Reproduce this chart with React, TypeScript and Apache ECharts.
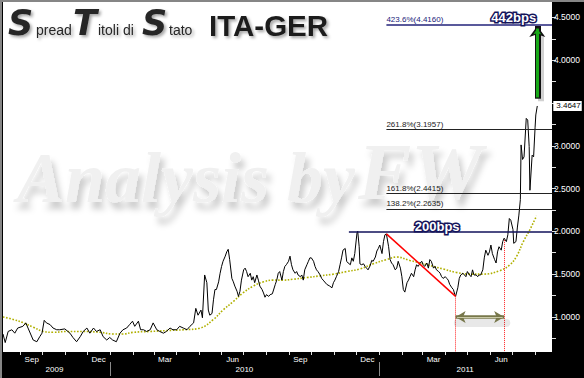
import React, { useEffect, useRef } from 'react';
import * as echarts from 'echarts';

const BASE = Date.UTC(2009, 8, 1);
const DAY = 86400000;
const t = (d: number) => BASE + d * DAY;

const X_MIN_DAY = -24;
const X_MAX_DAY = 722;
const Y_MIN = 0.59;
const Y_MAX = 4.68;

const spreadDays = [
  -24, -21, -17, -12, -8, -4, 3, 7, 10, 17, 22, 26, 29, 32, 35, 40, 44, 49, 53, 60,
  67, 71, 76, 81, 85, 90, 94, 99, 103, 108, 112, 117, 121, 125, 130, 135, 139, 144, 148, 152,
  155, 160, 163, 167, 171, 176, 180, 185, 189, 194, 198, 203, 207, 212, 216, 221, 226, 230, 235, 238,
  241, 245, 247, 250, 253, 255, 257, 260, 262, 264, 266, 269, 271, 273, 275, 278, 280, 282, 284, 287,
  289, 291, 294, 296, 298, 300, 303, 305, 307, 309, 312, 314, 316, 318, 321, 323, 325, 328, 330, 332,
  334, 337, 339, 342, 346, 348, 350, 352, 355, 357, 359, 361, 364, 366, 368, 370, 373, 375, 377, 380,
  382, 384, 386, 389, 391, 393, 395, 398, 400, 402, 404, 407, 409, 411, 416, 420, 423, 425, 427, 429,
  432, 434, 436, 438, 441, 443, 445, 448, 450, 452, 454, 457, 458, 460, 461, 463, 466, 468, 470, 472,
  475, 477, 479, 482, 484, 486, 488, 491, 493, 495, 497, 500, 502, 504, 506, 509, 511, 513, 516, 518,
  520, 522, 525, 527, 529, 531, 534, 536, 538, 540, 543, 545, 547, 549, 552, 554, 556, 558, 561, 563,
  565, 568, 570, 572, 574, 577, 579, 581, 583, 586, 588, 590, 591, 594, 596, 598, 601, 603, 605, 607,
  610, 612, 614, 616, 619, 621, 623, 625, 628, 630, 632, 635, 637, 639, 641, 644, 646, 648, 650, 653,
  655, 657, 660, 662, 664, 666, 669, 670, 673, 675, 677, 679, 680, 682, 684, 687, 689, 691, 692, 695,
  697, 699, 700, 702,
];
const spreadValues = [
  0.80, 0.70, 0.83, 0.85, 0.81, 0.87, 0.89, 0.93, 0.87, 0.73, 0.71, 0.77, 0.81, 0.96, 0.93, 0.91, 0.87, 0.85, 0.85, 0.86,
  0.81, 0.76, 0.71, 0.77, 0.83, 0.87, 0.81, 0.87, 0.83, 0.85, 0.77, 0.73, 0.76, 0.73, 0.71, 0.81, 0.85, 0.87, 0.91, 0.95,
  0.89, 0.95, 0.85, 0.85, 0.83, 0.85, 0.93, 0.85, 0.83, 0.81, 0.83, 0.87, 0.85, 0.85, 0.89, 0.87, 0.85, 0.89, 0.93, 1.10,
  1.02, 1.08, 0.99, 1.49, 1.40, 1.08, 1.02, 1.04, 1.20, 1.32, 1.32, 1.41, 1.51, 1.59, 1.65, 1.71, 1.76, 1.79, 1.67, 1.45,
  1.41, 1.36, 1.30, 1.24, 1.30, 1.43, 1.55, 1.57, 1.53, 1.47, 1.51, 1.43, 1.47, 1.40, 1.49, 1.43, 1.36, 1.32, 1.28, 1.23,
  1.26, 1.24, 1.26, 1.27, 1.38, 1.43, 1.51, 1.53, 1.43, 1.53, 1.59, 1.61, 1.65, 1.71, 1.61, 1.55, 1.51, 1.53, 1.49, 1.47,
  1.49, 1.43, 1.55, 1.61, 1.65, 1.69, 1.69, 1.65, 1.59, 1.55, 1.53, 1.49, 1.45, 1.43, 1.38, 1.36, 1.34, 1.40, 1.43, 1.47,
  1.53, 1.61, 1.69, 1.78, 1.80, 1.65, 1.63, 1.61, 1.69, 1.65, 1.74, 1.98, 2.00, 1.82, 1.62, 1.61, 1.62, 1.59, 1.57, 1.55,
  1.60, 1.66, 1.65, 1.70, 1.77, 1.80, 1.84, 1.74, 1.88, 1.96, 1.97, 1.82, 1.67, 1.63, 1.61, 1.55, 1.57, 1.65, 1.57, 1.47,
  1.32, 1.29, 1.40, 1.43, 1.47, 1.51, 1.47, 1.55, 1.61, 1.59, 1.63, 1.65, 1.61, 1.59, 1.63, 1.57, 1.67, 1.65, 1.57, 1.59,
  1.55, 1.53, 1.51, 1.47, 1.45, 1.47, 1.45, 1.43, 1.38, 1.34, 1.32, 1.26, 1.24, 1.34, 1.45, 1.49, 1.51, 1.49, 1.47, 1.53,
  1.49, 1.47, 1.55, 1.49, 1.49, 1.47, 1.49, 1.49, 1.55, 1.69, 1.78, 1.72, 1.76, 1.84, 1.74, 1.67, 1.63, 1.76, 1.82, 1.78,
  1.88, 1.92, 1.88, 1.96, 2.15, 2.13, 2.02, 1.86, 1.88, 2.05, 2.19, 2.37, 3.01, 2.84, 2.87, 3.32, 3.30, 2.99, 2.48, 2.89,
  2.87, 3.21, 3.36, 3.4647,
];

const maDays = [
  -24, -10, 4, 17, 31, 44, 63, 85, 108, 126, 139, 153, 176, 198, 221, 244, 262, 275, 289, 302,
  316, 330, 343, 357, 370, 389, 407, 425, 443, 461, 479, 497, 511, 529, 552, 574, 592, 610, 629, 651,
  665, 674, 683, 692, 701,
];
const maValues = [
  1.00, 0.97, 0.93, 0.88, 0.83, 0.82, 0.83, 0.83, 0.82, 0.80, 0.80, 0.82, 0.83, 0.84, 0.85, 0.87, 0.97, 1.08, 1.18, 1.28,
  1.36, 1.41, 1.43, 1.43, 1.44, 1.46, 1.48, 1.50, 1.53, 1.56, 1.62, 1.67, 1.70, 1.66, 1.61, 1.56, 1.52, 1.50, 1.50, 1.54,
  1.61, 1.71, 1.88, 2.02, 2.18,
];

const yTickValues = [0.75, 1, 1.25, 1.5, 1.75, 2, 2.25, 2.5, 2.75, 3, 3.25, 3.5, 3.75, 4, 4.25, 4.5];
const yLabelValues = [1, 1.5, 2, 2.5, 3, 4, 4.5];

const monthLabels = ['Sep', 'Dec', 'Mar', 'Jun', 'Sep', 'Dec', 'Mar', 'Jun'];
const monthLabelDates = ['2009-09-16', '2009-12-16', '2010-03-16', '2010-06-16', '2010-09-16', '2010-12-16', '2011-03-16', '2011-06-16'];
const yearLabels = ['2009', '2010', '2011'];
const yearLabelDates = ['2009-10-17', '2010-07-02', '2011-04-28'];
const yearSeparatorDates = ['2010-01-01', '2011-01-01'];

const fibLabels = ['423.6%', '261.8%', '161.8%', '138.2%'];
const fibValues = [4.416, 3.1957, 2.4415, 2.2635];
const fibColors = ['#22227a', '#222222', '#222222', '#222222'];
const FIB_START_DAY = 497;

const LEVEL_200_START_DAY = 446;
const LEVEL_200 = 2.0;
const redLineFrom = [497, 1.97];
const redLineTo = [591, 1.24];
const rangeFromDay = 591;
const rangeToDay = 657;
const rangeFromValue = 1.24;
const rangeToValue = 1.9;
const RANGE_ARROW_LEVEL = 1.0;
const RANGE_SHADOW_LEVEL = 0.93;
const greenArrowDay = 702;
const greenShadowDay = 707;
const greenArrowFrom = 3.55;
const greenArrowTo = 4.4;
const label200Day = 566;
const label442Day = 670;

const monthTickTimes: number[] = [];
for (let i = 0; i < 24; i++) monthTickTimes.push(Date.UTC(2009, 8 + i, 1));

const nearestLabel = (v: number, times: number[], labels: string[]) => {
  let best = 0;
  for (let i = 1; i < times.length; i++) if (Math.abs(times[i] - v) < Math.abs(times[best] - v)) best = i;
  return labels[best];
};

const SANS = '"Liberation Sans", Arial, sans-serif';

export default function App() {
  const ref = useRef<HTMLDivElement>(null);
  useEffect(() => {
    if (!ref.current) return;
    const chart = echarts.init(ref.current, undefined, { renderer: 'svg' });
    const monthTimes = monthLabelDates.map((s) => Date.parse(s));
    const yearTimes = yearLabelDates.map((s) => Date.parse(s));
    const sepTimes = yearSeparatorDates.map((s) => Date.parse(s));
    const spreadData = spreadDays.map((d, i) => [t(d), spreadValues[i]]);
    const maData = maDays.map((d, i) => [t(d), maValues[i]]);

    const fibLines = fibValues.map((v, i) => [
      {
        coord: [t(FIB_START_DAY), v],
        lineStyle: { color: fibColors[i], width: i === 0 ? 1.6 : 1, type: 'solid' },
        label: {
          show: true,
          formatter: `${fibLabels[i]}(${v.toFixed(4)})`,
          position: 'insideStartTop',
          color: fibColors[i],
          fontSize: 8,
          fontFamily: SANS,
          distance: [0, 1],
        },
      },
      { coord: [t(X_MAX_DAY), v] },
    ]);

    const option: any = {
      animation: false,
      backgroundColor: '#000',
      grid: { left: 3, right: 32, top: 2, bottom: 26, show: true, backgroundColor: '#fff', borderWidth: 0 },
      xAxis: [
        {
          type: 'value',
          min: t(X_MIN_DAY),
          max: t(X_MAX_DAY),
          position: 'bottom',
          axisLine: { show: false },
          axisTick: { show: true, customValues: monthTickTimes, length: 3, lineStyle: { color: '#e0e0e0', width: 1 } },
          axisLabel: {
            customValues: monthTimes,
            formatter: (v: number) => nearestLabel(v, monthTimes, monthLabels),
            color: '#fff',
            fontSize: 8,
            fontFamily: SANS,
            margin: 3,
          },
          splitLine: { show: false },
        },
        {
          type: 'value',
          min: t(X_MIN_DAY),
          max: t(X_MAX_DAY),
          position: 'bottom',
          offset: 10,
          axisLine: { show: false },
          axisTick: { show: true, customValues: sepTimes, length: 14, lineStyle: { color: '#8a8a8a', width: 1 } },
          axisLabel: {
            customValues: yearTimes,
            formatter: (v: number) => nearestLabel(v, yearTimes, yearLabels),
            color: '#fff',
            fontSize: 8,
            fontFamily: SANS,
            margin: 3,
          },
          splitLine: { show: false },
        },
      ],
      yAxis: {
        type: 'value',
        position: 'right',
        min: Y_MIN,
        max: Y_MAX,
        axisLine: { show: false },
        axisTick: { show: true, customValues: yTickValues, length: 4, lineStyle: { color: '#e0e0e0', width: 1 } },
        axisLabel: {
          customValues: yLabelValues,
          formatter: (v: number) => v.toFixed(4),
          color: '#fff',
          fontSize: 8.5,
          fontFamily: SANS,
          margin: 2,
        },
        splitLine: { show: false },
      },
      graphic: [
        { type: 'rect', z: 100, shape: { x: 0, y: 0, width: 584, height: 2 }, style: { fill: '#868686' } },
        { type: 'rect', z: 100, shape: { x: 0, y: 0, width: 2, height: 378 }, style: { fill: '#868686' } },
        {
          type: 'text', x: 17, y: 178, z: 1,
          style: {
            text: 'Analysis by', font: 'italic bold 72px "Liberation Serif"', fill: '#f0f0f0', verticalAlign: 'middle',
            textShadowColor: 'rgba(0,0,0,0.2)', textShadowBlur: 6, textShadowOffsetX: 4, textShadowOffsetY: 7,
          },
        },
        {
          type: 'text', x: 358, y: 172, z: 1,
          style: {
            text: 'FW', font: 'italic bold 80px "Liberation Serif"', fill: '#f0f0f0', verticalAlign: 'middle',
            textShadowColor: 'rgba(0,0,0,0.2)', textShadowBlur: 6, textShadowOffsetX: 4, textShadowOffsetY: 7,
          },
        },
        ...([
          ['S', 8, 'big'], ['pread', 36, 'small'], ['T', 73, 'big'], ['itoli di', 98, 'small'], ['S', 142, 'big'], ['tato', 169, 'small'],
        ] as [string, number, string][]).map(([txt, x, kind]) => ({
          type: 'text', x, y: kind === 'big' ? 23 : 30.2, z: 1,
          style: {
            text: txt,
            font: kind === 'big' ? 'italic bold 35px "DejaVu Sans"' : `14px ${SANS}`,
            fill: '#262626', verticalAlign: 'middle',
            textShadowColor: 'rgba(0,0,0,0.35)', textShadowBlur: 3, textShadowOffsetX: 2, textShadowOffsetY: 2,
          },
        })),
        {
          type: 'text', x: 209, y: 25, z: 1,
          style: {
            text: 'ITA-GER', font: `bold 29.5px ${SANS}`, fill: '#1e1e1e', verticalAlign: 'middle',
            textShadowColor: 'rgba(0,0,0,0.35)', textShadowBlur: 3, textShadowOffsetX: 2, textShadowOffsetY: 2,
          },
        },
      ],
      series: [
        {
          type: 'line',
          name: 'MA',
          data: maData,
          smooth: 0.4,
          symbol: 'none',
          silent: true,
          lineStyle: { color: '#b0b000', width: 1.6, type: 'dotted' },
          z: 2,
        },
        {
          type: 'line',
          name: 'Spread',
          data: spreadData,
          symbol: 'none',
          silent: true,
          lineStyle: { color: '#000', width: 1 },
          z: 3,
          endLabel: {
            show: true,
            formatter: (p: any) => Number(p.value[1]).toFixed(4),
            color: '#000',
            backgroundColor: '#fff',
            fontSize: 8,
            fontFamily: SANS,
            padding: [1, 1, 1, 3],
            offset: [8, 0],
          },
          markLine: {
            silent: true,
            symbol: ['none', 'none'],
            animation: false,
            label: { show: false },
            data: [
              ...fibLines,
              [
                { coord: [t(LEVEL_200_START_DAY), LEVEL_200], lineStyle: { color: '#10105a', width: 1.6, type: 'solid' } },
                { coord: [t(X_MAX_DAY), LEVEL_200] },
              ],
              [
                { coord: [t(redLineFrom[0]), redLineFrom[1]], lineStyle: { color: '#ff0000', width: 1.5, type: 'solid' } },
                { coord: [t(redLineTo[0]), redLineTo[1]] },
              ],
              [
                { coord: [t(rangeFromDay), rangeFromValue], lineStyle: { color: '#ff2020', width: 1, type: 'dotted' } },
                { coord: [t(rangeFromDay), Y_MIN] },
              ],
              [
                { coord: [t(rangeToDay), rangeToValue], lineStyle: { color: '#ff2020', width: 1, type: 'dotted' } },
                { coord: [t(rangeToDay), Y_MIN] },
              ],
              [
                { coord: [t(rangeFromDay + 3), RANGE_SHADOW_LEVEL], lineStyle: { color: 'rgba(0,0,0,0.09)', width: 8, type: 'solid', cap: 'round' } },
                { coord: [t(rangeToDay + 3), RANGE_SHADOW_LEVEL] },
              ],
              [
                {
                  coord: [t(rangeFromDay), RANGE_ARROW_LEVEL], symbol: 'arrow', symbolSize: [9, 10],
                  lineStyle: { color: '#77774a', width: 3.5, type: 'solid' },
                },
                { coord: [t(rangeToDay), RANGE_ARROW_LEVEL], symbol: 'arrow', symbolSize: [9, 10] },
              ],
              [
                { coord: [t(rangeFromDay + 2), RANGE_ARROW_LEVEL], lineStyle: { color: '#c9c9a6', width: 1, type: 'solid' } },
                { coord: [t(rangeToDay - 2), RANGE_ARROW_LEVEL] },
              ],
              [
                { coord: [t(greenShadowDay), greenArrowFrom - 0.03], lineStyle: { color: 'rgba(0,0,0,0.18)', width: 6, type: 'solid' } },
                { coord: [t(greenShadowDay), greenArrowTo - 0.1] },
              ],
              [
                { coord: [t(greenArrowDay), greenArrowFrom], symbol: 'none', lineStyle: { color: '#111', width: 6, type: 'solid' } },
                { coord: [t(greenArrowDay), greenArrowTo], symbol: 'arrow', symbolSize: [12, 11] },
              ],
              [
                { coord: [t(greenArrowDay), greenArrowFrom + 0.015], symbol: 'none', lineStyle: { color: '#18a818', width: 3, type: 'solid' } },
                { coord: [t(greenArrowDay), greenArrowTo - 0.03], symbol: 'arrow', symbolSize: [6, 6] },
              ],
            ],
          },
          markPoint: {
            silent: true,
            symbol: 'rect',
            symbolSize: 0,
            animation: false,
            label: {
              show: true,
              color: '#fff',
              fontWeight: 'bold',
              fontSize: 13,
              fontFamily: SANS,
              textBorderColor: '#14145a',
              textBorderWidth: 3,
            },
            data: [
              { coord: [t(label200Day), LEVEL_200], label: { formatter: '200bps', offset: [0, -5] } },
              { coord: [t(label442Day), fibValues[0]], label: { formatter: '442bps', offset: [0, -7] } },
            ],
          },
        },
      ],
    };
    chart.setOption(option);
    return () => chart.dispose();
  }, []);
  return (
    <div
      ref={ref}
      style={{ position: 'fixed', left: 0, top: 0, width: 584, height: 378, background: '#000' }}
    />
  );
}
